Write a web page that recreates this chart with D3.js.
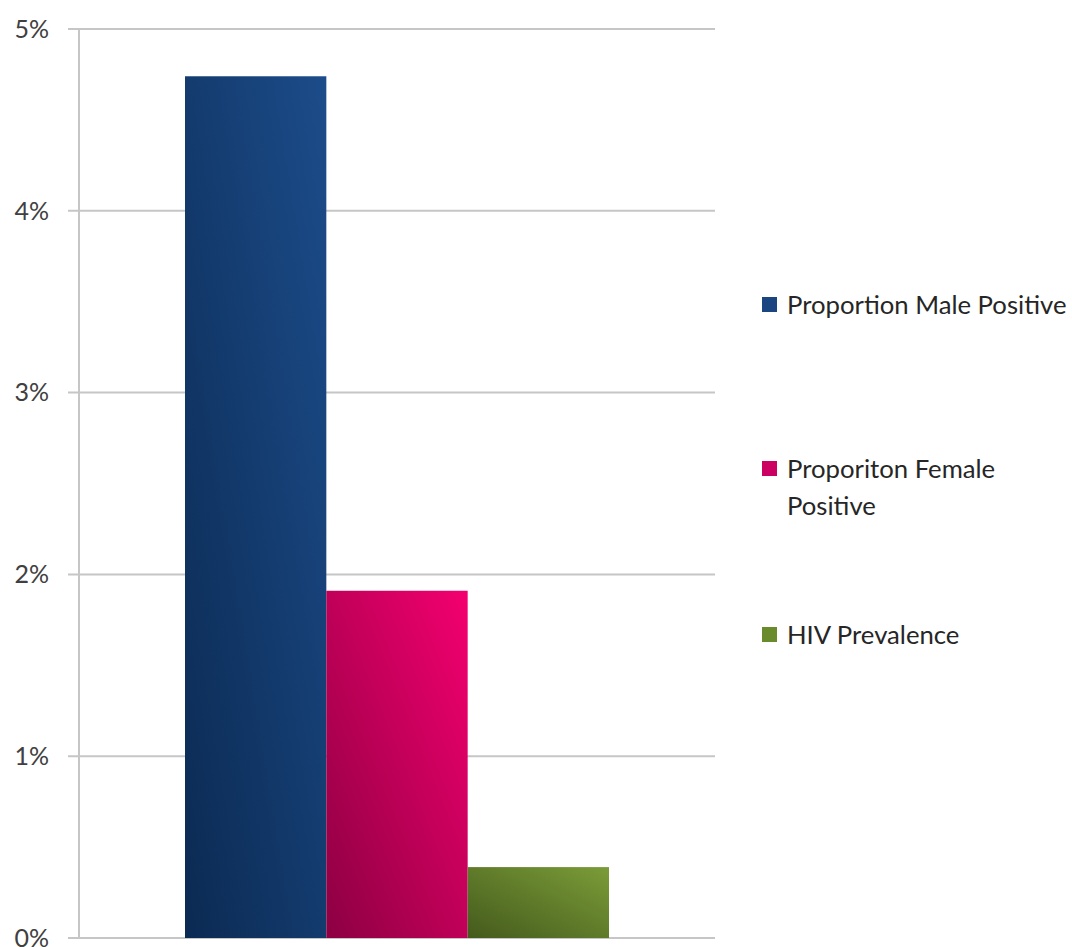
<!DOCTYPE html>
<html><head><meta charset="utf-8">
<script src="https://cdn.jsdelivr.net/npm/d3@7"></script>
<style>html,body{margin:0;padding:0;background:#fff;overflow:hidden}</style>
</head><body>
<svg id="c" width="1072" height="947"></svg>
<script>
const categories = ["All"];
const seriesNames = ["Proportion Male Positive", "Proporiton Female Positive", "HIV Prevalence"];
const seriesValues = [4.74, 1.91, 0.39];
const yTicks = [0, 1, 2, 3, 4, 5];
const tickLabels = ["0%", "1%", "2%", "3%", "4%", "5%"];
const colorsDark = ["#0b2a52", "#8c0042", "#445a1c"];
const colorsLight = ["#1c4c8a", "#f4006f", "#7b9c38"];
const legendColors = ["#1a4580", "#cc0062", "#6a8b2c"];

const svg = d3.select("#c");
const font = "Lato, 'Open Sans', sans-serif";
const m = {left: 79, right: 715, top: 29, bottom: 938};

const y = d3.scaleLinear().domain([0, 5]).range([m.bottom, m.top]);
const x0 = d3.scaleBand().domain(categories).range([m.left, m.right]).paddingInner(0).paddingOuter(0.25);
const x1 = d3.scaleBand().domain(seriesNames).range([0, x0.bandwidth()]).padding(0);

const defs = svg.append("defs");
seriesNames.forEach((s, i) => {
  const g = defs.append("linearGradient").attr("id", "g" + i)
    .attr("x1", 0).attr("y1", 1).attr("x2", 1).attr("y2", 0);
  g.append("stop").attr("offset", "0%").attr("stop-color", colorsDark[i]);
  g.append("stop").attr("offset", "100%").attr("stop-color", colorsLight[i]);
});

// gridlines
svg.append("g").selectAll("line").data(yTicks).join("line")
  .attr("x1", m.left - 11).attr("x2", m.right)
  .attr("y1", d => y(d)).attr("y2", d => y(d))
  .attr("stroke", "#c6c6c6").attr("stroke-width", 2);

// axis line
svg.append("line").attr("x1", m.left).attr("x2", m.left)
  .attr("y1", m.top).attr("y2", m.bottom)
  .attr("stroke", "#c6c6c6").attr("stroke-width", 2);

// tick labels
svg.append("g").selectAll("text").data(yTicks).join("text")
  .attr("x", 49).attr("y", d => y(d)).attr("dy", "0.35em")
  .attr("text-anchor", "end").attr("font-family", font).attr("font-size", 25)
  .attr("fill", "#404040").text((d, i) => tickLabels[i]);

// bars
const gCat = svg.append("g").selectAll("g").data(categories).join("g")
  .attr("transform", d => `translate(${x0(d)},0)`);
gCat.selectAll("rect").data(seriesNames.map((s, i) => ({s, v: seriesValues[i], i}))).join("rect")
  .attr("x", d => x1(d.s)).attr("width", x1.bandwidth())
  .attr("y", d => y(d.v)).attr("height", d => y(0) - y(d.v))
  .attr("fill", d => `url(#g${d.i})`);

// legend
const legendItems = [
  {lines: ["Proportion Male Positive"], y: 305},
  {lines: ["Proporiton Female", "Positive"], y: 469},
  {lines: ["HIV Prevalence"], y: 635}
];
const lg = svg.append("g").selectAll("g").data(legendItems).join("g");
lg.append("rect").attr("x", 762).attr("y", d => d.y - 8).attr("width", 15).attr("height", 15)
  .attr("fill", (d, i) => legendColors[i]);
lg.each(function(d) {
  const t = d3.select(this).append("text").attr("font-family", font).attr("font-size", 25.7)
    .attr("fill", "#262626");
  d.lines.forEach((l, j) => {
    t.append("tspan").attr("x", 787).attr("y", d.y + 9 + j * 37).text(l);
  });
});
</script>
</body></html>
